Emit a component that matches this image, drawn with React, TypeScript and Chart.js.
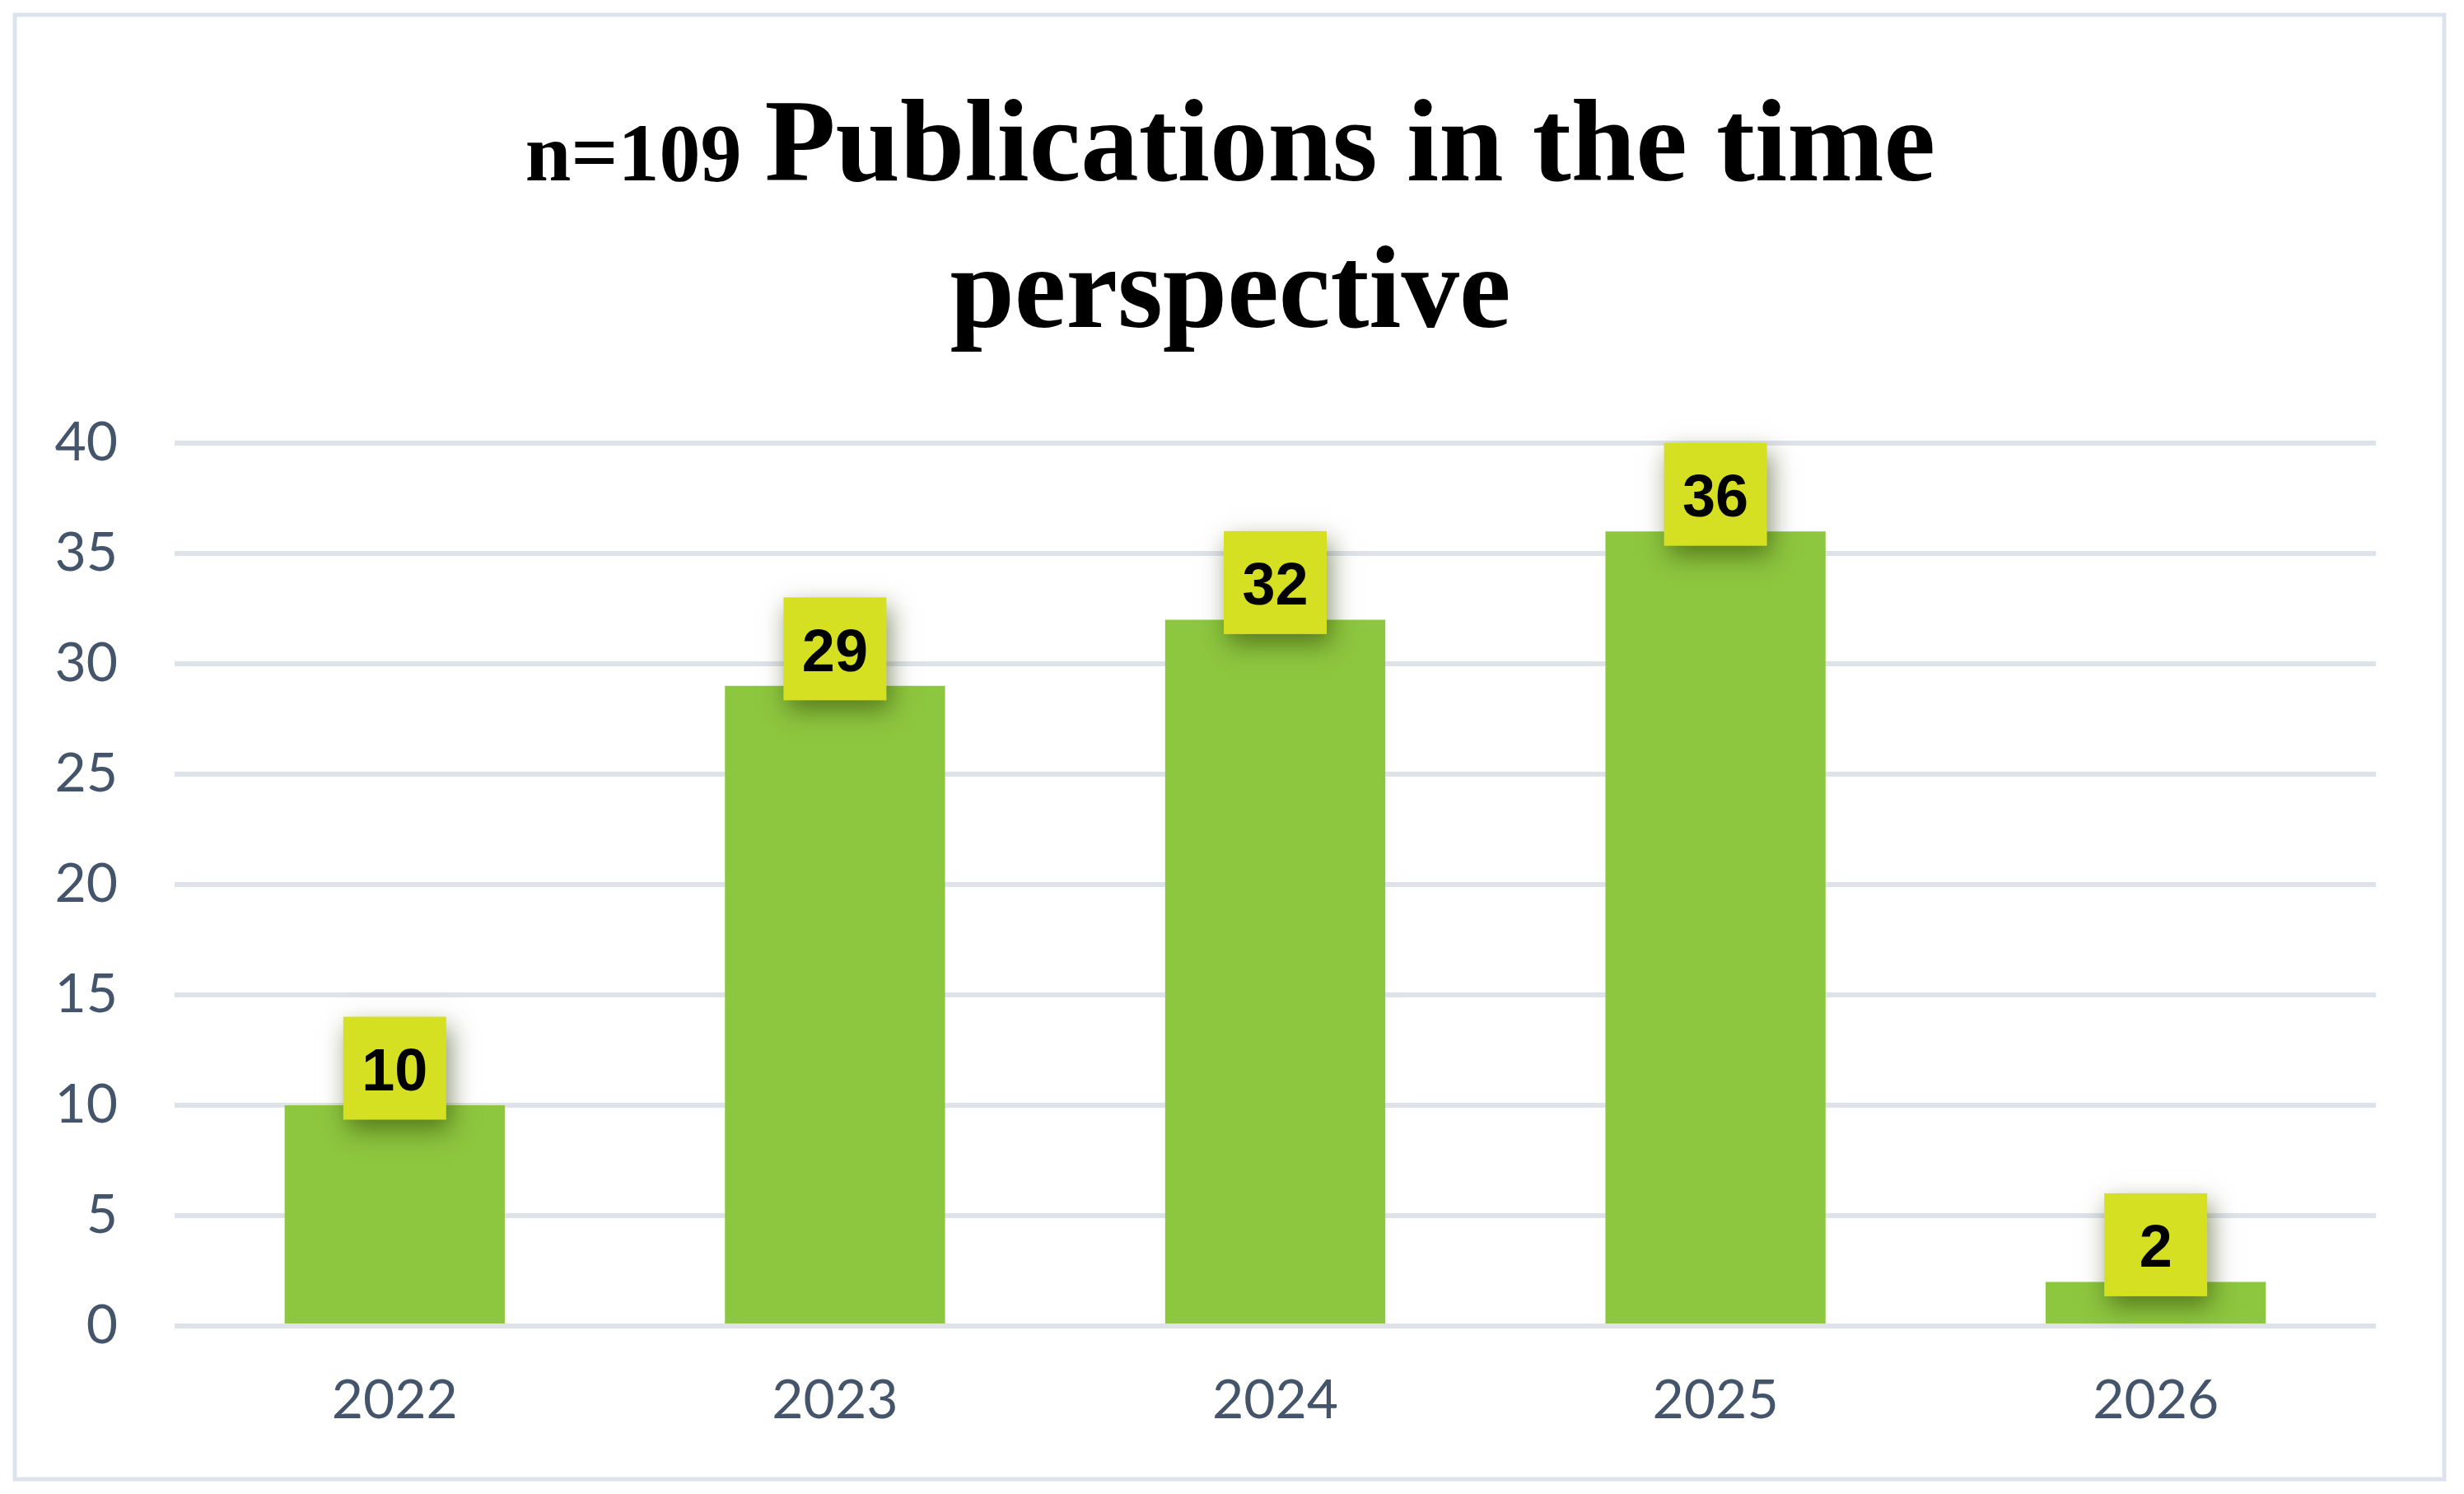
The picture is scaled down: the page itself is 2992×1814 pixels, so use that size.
import React, { useEffect, useRef } from "react";
import { Chart, registerables } from "chart.js";

Chart.register(...registerables);

// ---- data ----
const categories = ["2022", "2023", "2024", "2025", "2026"];
const publications = [10, 29, 32, 36, 2];
const yMin = 0;
const yMax = 40;
const yStep = 5;
const titlePrefix = "n=109";
const titleMain = "Publications in the time";
const titleLine2 = "perspective";

// ---- styles ----
const W = 2992;
const H = 1814;
const barColor = "#8dc63f";
const labelBoxColor = "#d6e022";
const axisTextColor = "#44546a";
const gridColor = "#dee3ea";
const frameColor = "#dde3ea";

const framePlugin = {
  id: "frame",
  beforeDraw(chart: any) {
    const ctx = chart.ctx;
    ctx.save();
    ctx.fillStyle = "#ffffff";
    ctx.fillRect(0, 0, chart.width, chart.height);
    ctx.strokeStyle = frameColor;
    ctx.lineWidth = 5;
    ctx.strokeRect(18, 18, chart.width - 42, chart.height - 36);
    ctx.restore();
  },
};

const titlePlugin = {
  id: "mixedTitle",
  afterDraw(chart: any) {
    const ctx = chart.ctx;
    ctx.save();
    ctx.fillStyle = "#000000";
    ctx.textBaseline = "alphabetic";
    ctx.textAlign = "left";
    const f1 = 'bold 100px "Liberation Serif", "Times New Roman", serif';
    const f2 = 'bold 141px "Liberation Serif", "Times New Roman", serif';
    ctx.font = f1;
    const w1 = ctx.measureText(titlePrefix).width;
    ctx.font = f2;
    const w2 = ctx.measureText(titleMain).width;
    const gap = 28;
    const cx = 1494;
    const x0 = cx - (w1 + gap + w2) / 2;
    ctx.font = f1;
    ctx.fillText(titlePrefix, x0, 219);
    ctx.font = f2;
    ctx.fillText(titleMain, x0 + w1 + gap, 219);
    ctx.textAlign = "center";
    ctx.fillText(titleLine2, cx, 397);
    ctx.restore();
  },
};

const valueLabelPlugin = {
  id: "valueLabels",
  afterDatasetsDraw(chart: any) {
    const ctx = chart.ctx;
    const meta = chart.getDatasetMeta(0);
    const data = chart.data.datasets[0].data;
    const size = 125;
    ctx.save();
    meta.data.forEach((el: any, i: number) => {
      const cx = el.x;
      const cy = el.y - 45;
      ctx.save();
      ctx.shadowColor = "rgba(45, 60, 0, 0.55)";
      ctx.shadowBlur = 28;
      ctx.shadowOffsetX = 5;
      ctx.shadowOffsetY = 12;
      ctx.fillStyle = labelBoxColor;
      ctx.fillRect(cx - size / 2, cy - size / 2, size, size);
      ctx.restore();
      ctx.fillStyle = "#000000";
      ctx.font = 'bold 72px "Liberation Sans", Arial, sans-serif';
      ctx.textAlign = "center";
      ctx.textBaseline = "alphabetic";
      ctx.fillText(String(data[i]), cx, cy + 27);
    });
    ctx.restore();
  },
};

export default function App() {
  const canvasRef = useRef<HTMLCanvasElement | null>(null);

  useEffect(() => {
    document.body.style.margin = "0";
    document.body.style.overflow = "hidden";
    const canvas = canvasRef.current;
    if (!canvas) return;
    const chart = new Chart(canvas, {
      type: "bar",
      data: {
        labels: categories,
        datasets: [
          {
            label: "Publications",
            data: publications,
            backgroundColor: barColor,
            borderWidth: 0,
            barPercentage: 0.5,
            categoryPercentage: 1.0,
          },
        ],
      },
      options: {
        responsive: false,
        animation: false,
        devicePixelRatio: 1,
        layout: {
          padding: { top: 538, left: 0, right: 107, bottom: 54 },
        },
        plugins: {
          legend: { display: false },
          title: { display: false },
          tooltip: { enabled: false },
        },
        scales: {
          x: {
            grid: { display: false, drawTicks: false },
            border: { display: false },
            ticks: {
              color: axisTextColor,
              font: { family: "Lato, 'Open Sans', sans-serif", size: 66 },
              padding: 51,
            },
            afterFit(scale: any) {
              scale.height = 150;
            },
          },
          y: {
            min: yMin,
            max: yMax,
            ticks: {
              stepSize: yStep,
              color: axisTextColor,
              font: { family: "Lato, 'Open Sans', sans-serif", size: 66 },
              padding: 69,
            },
            grid: { color: gridColor, lineWidth: 6, drawTicks: false },
            border: { display: false },
            afterFit(scale: any) {
              scale.width = 212;
            },
          },
        },
      },
      plugins: [framePlugin, valueLabelPlugin, titlePlugin],
    });
    return () => chart.destroy();
  }, []);

  return (
    <div style={{ position: "fixed", left: 0, top: 0, width: W, height: H, background: "#fff" }}>
      <canvas ref={canvasRef} width={W} height={H} style={{ width: W, height: H, display: "block" }} />
    </div>
  );
}
